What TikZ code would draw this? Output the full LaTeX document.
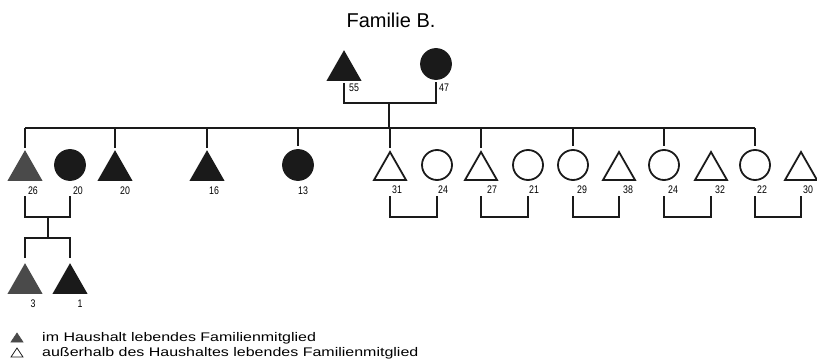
\documentclass[tikz,border=0pt]{standalone}
\usepackage{fontspec}
\setmainfont{Liberation Sans}
\newfontfamily\agefont[FakeStretch=0.8]{Liberation Sans}
\newfontfamily\legendfont[FakeStretch=1.28]{Liberation Sans}
\usetikzlibrary{shapes.geometric}
\definecolor{ink}{HTML}{1A1A1A}
\definecolor{greyink}{HTML}{4A4A4A}

\begin{document}
\begin{tikzpicture}[x=1pt,y=-1pt,
  male/.style={isosceles triangle, shape border rotate=90,
    isosceles triangle stretches, minimum width=32pt, minimum height=28pt,
    inner sep=0pt, outer sep=0pt, anchor=apex, line width=1.8pt, draw=ink},
  female/.style={circle, minimum size=30pt, inner sep=0pt, outer sep=0pt,
    line width=1.8pt, draw=ink},
  home/.style={fill=ink},
  homegrey/.style={fill=greyink, draw=greyink},
  age/.style={font=\agefont\fontsize{11}{13}\selectfont, inner sep=0pt},
  legendtext/.style={font=\legendfont\fontsize{12.5}{14}\selectfont,
    inner sep=0pt, anchor=base west},
  link/.style={line width=1.1pt, draw=ink},
]
\useasboundingbox (0,0) rectangle (817,361);

% title
\node[font=\fontsize{20}{24}\selectfont, inner sep=0pt] (title) at (391,20) {Familie B.};

% parents
\node[male, home] (fa) at (344,52) {};
\node[female, home] (mo) at (436,64) {};
\node[age] (fa-age) at (354,88) {55};
\node[age] (mo-age) at (444,88) {47};

% children generation
\node[male, homegrey] (c1) at (25,152) {};
\node[female, home] (c2) at (70,165) {};
\node[male, home] (c3) at (115,152) {};
\node[male, home] (c4) at (207,152) {};
\node[female, home] (c5) at (298,165) {};
\node[male] (c6) at (390,152) {};
\node[female] (c7) at (437,165) {};
\node[male] (c8) at (481,152) {};
\node[female] (c9) at (528,165) {};
\node[female] (c10) at (573,165) {};
\node[male] (c11) at (619,152) {};
\node[female] (c12) at (664,165) {};
\node[male] (c13) at (711,152) {};
\node[female] (c14) at (755,165) {};
\node[male] (c15) at (801,152) {};

\node[age] (a1) at (33,191) {26};
\node[age] (a2) at (78,191) {20};
\node[age] (a3) at (125,191) {20};
\node[age] (a4) at (214,191) {16};
\node[age] (a5) at (303,191) {13};
\node[age] (a6) at (397,190) {31};
\node[age] (a7) at (443,190) {24};
\node[age] (a8) at (492,190) {27};
\node[age] (a9) at (534,190) {21};
\node[age] (a10) at (582,190) {29};
\node[age] (a11) at (628,190) {38};
\node[age] (a12) at (673,190) {24};
\node[age] (a13) at (720,190) {32};
\node[age] (a14) at (762,190) {22};
\node[age] (a15) at (808,190) {30};

% grandchildren
\node[male, homegrey] (g1) at (25,265) {};
\node[male, home] (g2) at (70,265) {};
\node[age] (ga1) at (33,304) {3};
\node[age] (ga2) at (80,304) {1};

% parents' union and sibling line
\coordinate (pj) at (389,103);
\coordinate (sib) at (0,128);
\draw[link] ([yshift=-3pt]fa.south) |- (pj) -| ([yshift=-3pt]mo.south);
\draw[link] (pj) -- (pj |- sib);
\draw[link] (c1 |- sib) -- (c14 |- sib);
\foreach \n in {c1,c3,c4,c5,c6,c8,c10,c12,c14}
  \draw[link, shorten >=4pt] (\n |- sib) -- (\n.north);

% couple brackets
\coordinate (bt) at (0,196);
\coordinate (bb) at (0,217);
\foreach \a/\b in {c1/c2,c6/c7,c8/c9,c10/c11,c12/c13,c14/c15}
  \draw[link] (\a |- bt) -- (\a |- bb) -- (\b |- bb) -- (\b |- bt);

% descent of the first couple
\coordinate (kj) at (48,217);
\coordinate (kl) at (48,238);
\draw[link] (kj) -- (kl);
\draw[link, shorten <=7pt, shorten >=7pt] (g1.north) |- (kl) -| (g2.north);

% legend
\node[male, homegrey, minimum width=12pt, minimum height=9pt, line width=0.6pt] (k1) at (17,333) {};
\node[male, minimum width=12pt, minimum height=9pt, line width=0.8pt] (k2) at (17,348) {};
\node[legendtext] (l1) at (42,341) {im Haushalt lebendes Familienmitglied};
\node[legendtext] (l2) at (42,356) {außerhalb des Haushaltes lebendes Familienmitglied};
\end{tikzpicture}
\end{document}
